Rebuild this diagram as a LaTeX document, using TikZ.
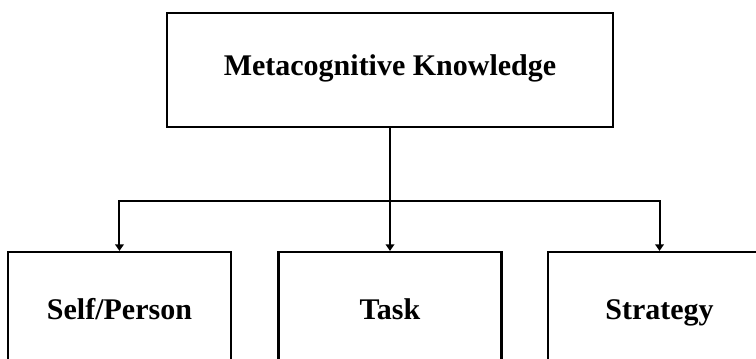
\documentclass[tikz,border=0pt]{standalone}
\usepackage{fontspec}
\setmainfont{Liberation Serif}
\usetikzlibrary{positioning,arrows.meta}

\begin{document}
\begin{tikzpicture}[
    box/.style={draw, line width=1.9pt, minimum height=85.5pt, text height=15pt,
      font=\bfseries\fontsize{22.5}{27}\selectfont},
    leaf/.style={box, minimum width=167.25pt, text depth=0pt},
    branch/.style={line width=1.5pt},
    fork/.style={branch, -{Triangle[length=5pt,width=6.5pt]}}
  ]
  \useasboundingbox (0,0) rectangle (567pt,-268.5pt);
  \clip (0,0) rectangle (567pt,-268.5pt);
  % Define nodes
  \node[box, minimum width=334.5pt, text depth=7.5pt] (meta) at (292.5pt,-52.5pt) {Metacognitive Knowledge};
  \node[leaf, below=92pt of meta] (task) {Task};
  \node[leaf, left=33.75pt of task] (self) {Self/Person};
  \node[leaf, right=33pt of task] (strategy) {Strategy};
  \coordinate[below=54.4pt of meta] (split);
  % Connect nodes
  \draw[branch] (meta) -- (split);
  \draw[fork] (split) -| (self.north);
  \draw[fork] (split) -- (task.north);
  \draw[fork] (split) -| (strategy.north);
\end{tikzpicture}
\end{document}
